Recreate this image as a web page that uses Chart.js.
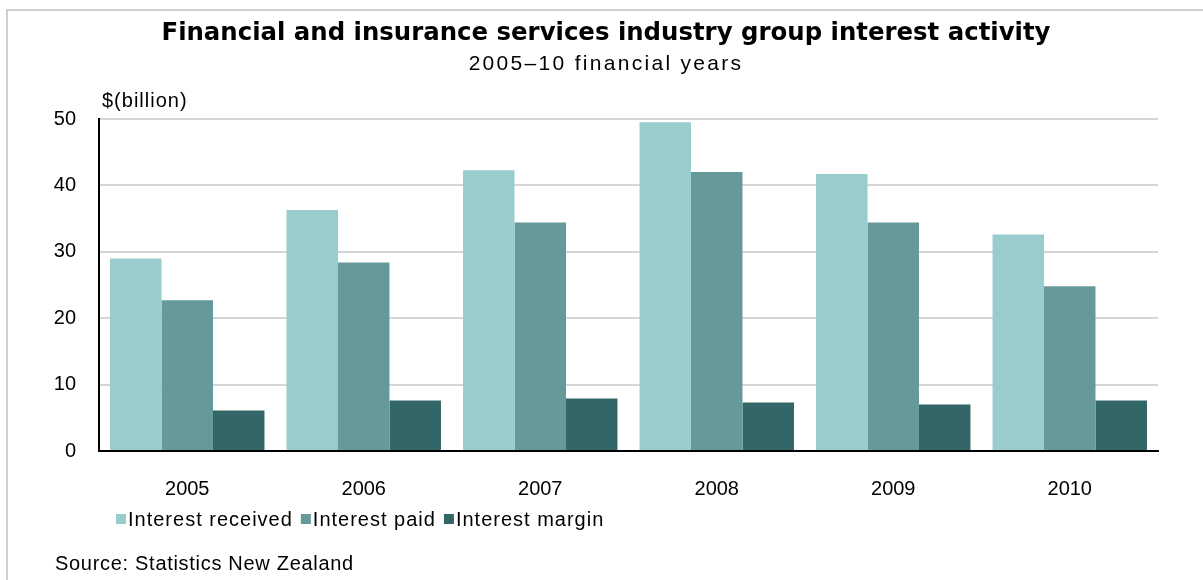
<!DOCTYPE html>
<html>
<head>
<meta charset="utf-8">
<title>Financial and insurance services industry group interest activity</title>
<script src="https://cdn.jsdelivr.net/npm/chart.js@4.4.0/dist/chart.umd.min.js"></script>
<style>
  html, body { margin: 0; padding: 0; background: #fff; }
  #wrap { position: relative; width: 1203px; height: 580px; overflow: hidden; }
  #frame { position: absolute; left: 6px; top: 9px; width: 1300px; height: 700px; border: 2px solid #d0d0d0; }
  #chart { position: absolute; left: 0; top: 0; }
</style>
</head>
<body>
<div id="wrap">
  <div id="frame"></div>
  <canvas id="chart" width="1203" height="580"></canvas>
</div>
<script>
// Chart data
const years = ["2005", "2006", "2007", "2008", "2009", "2010"];
const seriesNames = ["Interest received", "Interest paid", "Interest margin"];
const seriesColors = ["#99cccc", "#669999", "#336666"];
const interestReceived = [29.0, 36.3, 42.3, 49.5, 41.7, 32.6];
const interestPaid = [22.7, 28.4, 34.4, 42.0, 34.4, 24.8];
const interestMargin = [6.1, 7.6, 7.9, 7.3, 7.0, 7.6];
const yTicks = [0, 10, 20, 30, 40, 50];

const titleText = "Financial and insurance services industry group interest activity";
const subtitleText = "2005\u201310 financial years";
const unitText = "$(billion)";
const sourceText = "Source: Statistics New Zealand";

// Title, unit label, legend and source line
const decorations = {
  id: "decorations",
  afterDraw(chart) {
    const ctx = chart.ctx;
    const area = chart.chartArea;
    ctx.save();
    ctx.fillStyle = "#000";
    ctx.textBaseline = "alphabetic";

    ctx.textAlign = "center";
    ctx.font = "bold 24.4px 'DejaVu Sans'";
    ctx.fillText(titleText, 606, 40);
    ctx.font = "21px 'Liberation Sans'";
    ctx.letterSpacing = "2.3px";
    ctx.fillText(subtitleText, 606, 70);

    ctx.textAlign = "left";
    ctx.letterSpacing = "1px";
    ctx.font = "20px 'Liberation Sans'";
    ctx.fillText(unitText, area.left + 3, 107);

    // legend
    let x = 116;
    const ly = 519;
    seriesNames.forEach((name, i) => {
      ctx.fillStyle = seriesColors[i];
      ctx.fillRect(x, ly - 5, 10, 10);
      ctx.fillStyle = "#000";
      ctx.fillText(name, x + 12, ly + 7);
      x += 12 + ctx.measureText(name).width + 8;
    });

    ctx.letterSpacing = "0.7px";
    ctx.fillText(sourceText, 55, 570);
    ctx.restore();
  }
};

new Chart(document.getElementById("chart"), {
  type: "bar",
  data: {
    labels: years,
    datasets: [
      { label: seriesNames[0], data: interestReceived, backgroundColor: seriesColors[0] },
      { label: seriesNames[1], data: interestPaid, backgroundColor: seriesColors[1] },
      { label: seriesNames[2], data: interestMargin, backgroundColor: seriesColors[2] }
    ]
  },
  options: {
    responsive: false,
    animation: false,
    categoryPercentage: 0.875,
    barPercentage: 1.0,
    layout: { padding: { top: 119, right: 45, left: 0, bottom: 0 } },
    plugins: {
      legend: { display: false },
      title: { display: false },
      tooltip: { enabled: false }
    },
    scales: {
      x: {
        grid: { display: false },
        border: { display: true, color: "#000", width: 2 },
        ticks: { color: "#000", font: { family: "'Liberation Sans'", size: 20 }, padding: 18 },
        afterFit(scale) { scale.height = 129; }
      },
      y: {
        min: 0,
        max: 50,
        afterBuildTicks(scale) { scale.ticks = yTicks.map(v => ({ value: v })); },
        grid: { color: "#d6d6d6", lineWidth: 2, drawTicks: false },
        border: { display: true, color: "#000", width: 2 },
        ticks: { color: "#000", font: { family: "'Liberation Sans'", size: 20 }, padding: 23 },
        afterFit(scale) { scale.width = 99; }
      }
    }
  },
  plugins: [decorations]
});
</script>
</body>
</html>
